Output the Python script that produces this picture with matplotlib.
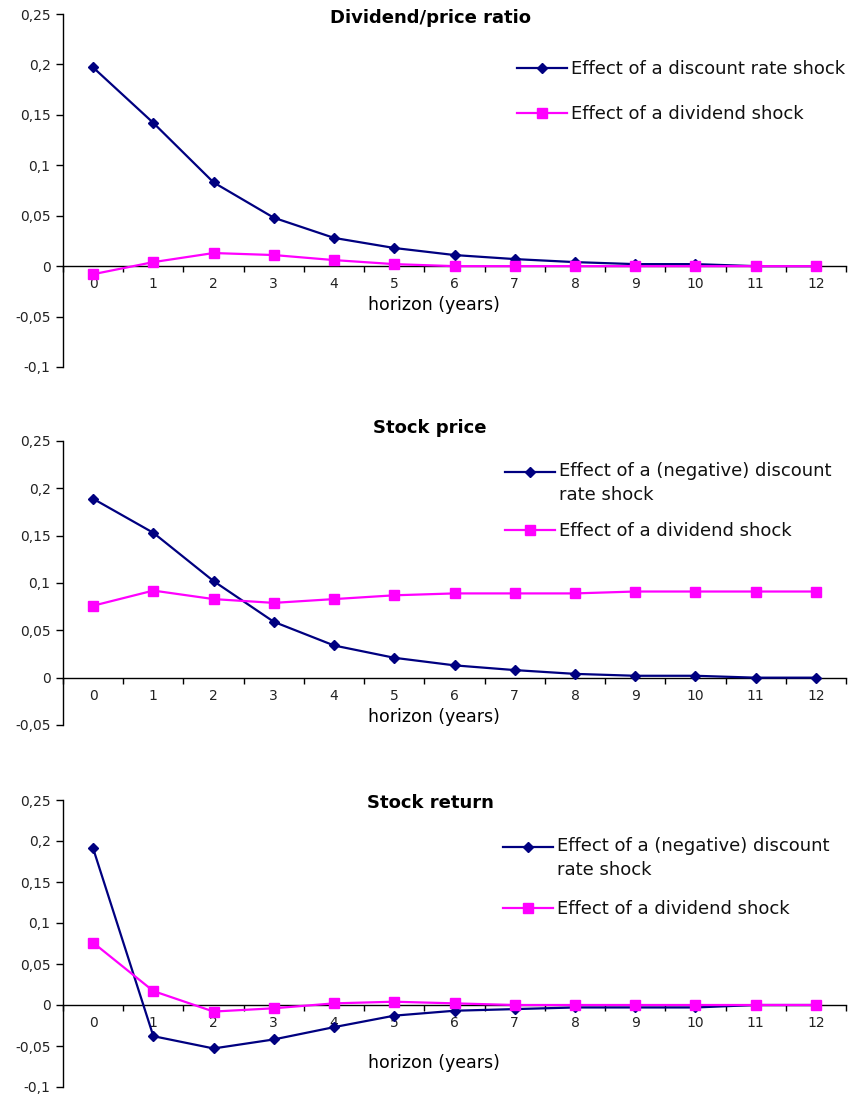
import numpy as np
import matplotlib
matplotlib.use("Agg")
import matplotlib.pyplot as plt
from matplotlib.ticker import FuncFormatter
from matplotlib.legend_handler import HandlerLine2D

plt.rcParams['font.family'] = ['DejaVu Sans']

# horizon in years
horizon = list(range(13))

# Dividend/price ratio
dp_discount = [0.197, 0.142, 0.083, 0.048, 0.028, 0.018, 0.011, 0.007, 0.004, 0.002, 0.002, 0.0, 0.0]
dp_dividend = [-0.008, 0.004, 0.013, 0.011, 0.006, 0.002, 0.0, 0.0, 0.0, 0.0, 0.0, 0.0, 0.0]

# Stock price
price_discount = [0.189, 0.153, 0.102, 0.059, 0.034, 0.021, 0.013, 0.008, 0.004, 0.002, 0.002, 0.0, 0.0]
price_dividend = [0.076, 0.092, 0.083, 0.079, 0.083, 0.087, 0.089, 0.089, 0.089, 0.091, 0.091, 0.091, 0.091]

# Stock return
ret_discount = [0.191, -0.038, -0.053, -0.042, -0.027, -0.013, -0.007, -0.005, -0.003, -0.003, -0.003, 0.0, 0.0]
ret_dividend = [0.076, 0.017, -0.008, -0.004, 0.002, 0.004, 0.002, 0.0, 0.0, 0.0, 0.0, 0.0, 0.0]

titles = ["Dividend/price ratio", "Stock price", "Stock return"]
lab_discount = ["Effect of a discount rate shock",
                "Effect of a (negative) discount\nrate shock",
                "Effect of a (negative) discount\nrate shock"]
lab_dividend = "Effect of a dividend shock"


class TopLine(HandlerLine2D):
    # put the legend key next to the first text line of a two-line label
    def __init__(self, shift, **kw):
        super().__init__(**kw)
        self.shift = shift

    def create_artists(self, legend, orig_handle, xdescent, ydescent, width, height,
                       fontsize, trans):
        return super().create_artists(legend, orig_handle, xdescent, ydescent - self.shift,
                                      width, height, fontsize, trans)


W, H = 865, 1095
fig = plt.figure(figsize=(W / 100, H / 100), dpi=100)

# pixel boxes: (left, top, right, bottom), y limits, y ticks, title y, xlabel y,
# legend anchor, legend label spacing
panels = [
    ((63, 14, 846, 367), (-0.1, 0.25), [-0.1, -0.05, 0, 0.05, 0.1, 0.15, 0.2, 0.25],
     dp_discount, dp_dividend, 18, 305, (517, 60), 1.5),
    ((63, 441, 846, 725), (-0.05, 0.25), [-0.05, 0, 0.05, 0.1, 0.15, 0.2, 0.25],
     price_discount, price_dividend, 428, 717, (505, 462), 1.0),
    ((63, 800, 846, 1087), (-0.1, 0.25), [-0.1, -0.05, 0, 0.05, 0.1, 0.15, 0.2, 0.25],
     ret_discount, ret_dividend, 803, 1063, (503, 837), 1.15),
]


def comma(v, pos):
    if abs(v) < 1e-9:
        return "0"
    s = ("%.2f" % v).rstrip("0").rstrip(".")
    return s.replace(".", ",")


for i, (box, ylim, yt, s1, s2, ty, xly, legpos, lsp) in enumerate(panels):
    l, t, r, b = box
    ax = fig.add_axes([l / W, 1 - b / H, (r - l) / W, (b - t) / H])
    l1, = ax.plot(horizon, s1, color="#000080", lw=1.6, marker="D", ms=5.5,
                  label=lab_discount[i], zorder=3)
    l2, = ax.plot(horizon, s2, color="#FF00FF", lw=1.6, marker="s", ms=7,
                  label=lab_dividend, zorder=3)
    ax.set_xlim(-0.5, 12.5)
    ax.set_ylim(*ylim)
    ax.set_yticks(yt)
    ax.yaxis.set_major_formatter(FuncFormatter(comma))
    for sp in ["top", "right"]:
        ax.spines[sp].set_visible(False)
    ax.spines["bottom"].set_position(("data", 0))
    ax.spines["left"].set_linewidth(1.0)
    ax.spines["bottom"].set_linewidth(1.0)
    # tick marks between categories, labels on categories
    ax.set_xticks(np.arange(-0.5, 13, 1))
    ax.set_xticklabels([])
    ax.set_xticks(horizon, minor=True)
    ax.set_xticklabels([str(h) for h in horizon], minor=True)
    ax.tick_params(axis="x", which="major", direction="out", length=4, width=1)
    ax.tick_params(axis="x", which="minor", length=0, pad=8, labelsize=10, colors="#222222")
    ax.tick_params(axis="y", direction="out", length=5, width=1, pad=4, labelsize=10,
                   labelcolor="#222222")
    fig.text(430 / W, 1 - ty / H, titles[i], ha="center", va="center",
             fontsize=13, fontweight="bold")
    fig.text(434 / W, 1 - xly / H, "horizon (years)", ha="center", va="center",
             fontsize=12.5)
    shift = 17 if "\n" in lab_discount[i] else 0
    leg = ax.legend(loc="upper left", bbox_to_anchor=(legpos[0] / W, 1 - legpos[1] / H),
                    bbox_transform=fig.transFigure, frameon=False, fontsize=13,
                    handlelength=2.75, handletextpad=0.25, labelspacing=lsp,
                    borderpad=0, borderaxespad=0,
                    handler_map={l1: TopLine(shift)})
    for txt in leg.get_texts():
        txt.set_linespacing(1.45)
        txt.set_color("#111111")

fig.savefig("out.png", dpi=100)
